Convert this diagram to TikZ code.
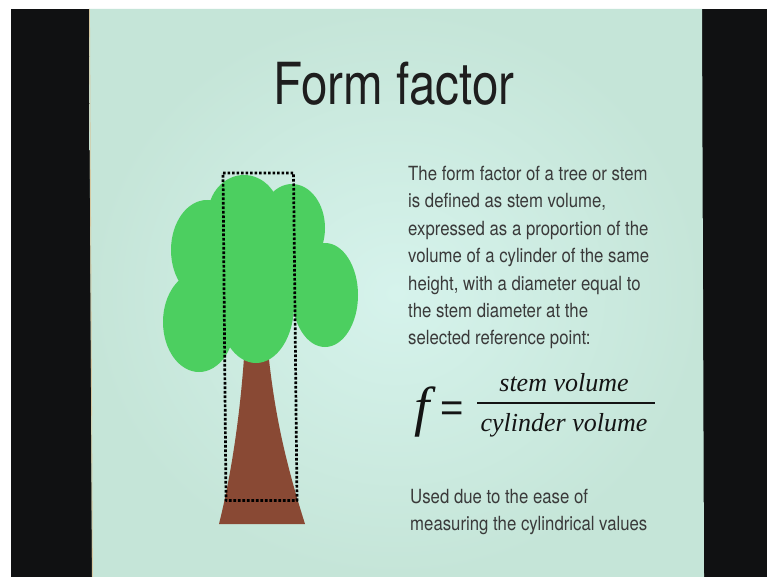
\documentclass[tikz,border=0pt]{standalone}
\usepackage{fontspec}
\setmainfont{TeX Gyre Heros}
\newfontfamily\titlefont[FakeStretch=0.82]{TeX Gyre Heros}
\newfontfamily\bodyfont[FakeStretch=0.86]{TeX Gyre Heros}
\newfontfamily\fracfont{Liberation Serif}
\newfontfamily\eqsignfont{Liberation Sans}

\definecolor{frameblack}{RGB}{16,17,18}
\definecolor{slideedge}{RGB}{197,229,216}
\definecolor{slidecentre}{RGB}{214,243,236}
\definecolor{leafgreen}{RGB}{76,207,96}
\definecolor{barkbrown}{RGB}{137,73,52}
\definecolor{titleink}{RGB}{30,30,30}
\definecolor{bodyink}{RGB}{58,58,58}
\definecolor{mathink}{RGB}{20,20,20}

\tikzset{
  titletext/.style={inner sep=0pt, anchor=base, text=titleink,
    font=\titlefont\fontsize{58}{58}\selectfont},
  bodytext/.style={inner sep=0pt, anchor=base west, text=bodyink,
    font=\bodyfont\fontsize{19.5}{27}\selectfont},
  fractext/.style={inner sep=0pt, anchor=base, text=mathink,
    font=\fracfont\itshape\fontsize{26}{26}\selectfont},
  leaf/.style={fill=leafgreen, draw=none},
  cylinderbox/.style={draw=black, line width=2.7pt,
    dash pattern=on 2.6pt off 1.9pt, line join=round}
}

\begin{document}
\begin{tikzpicture}[x=1pt, y=-1pt]
  \useasboundingbox (0,0) rectangle (767,577);

  % surroundings of the projected slide
  \fill[white] (0,0) rectangle (767,577);
  \fill[frameblack] (11,9) rectangle (767,577);

  % slide surface
  \shade[inner color=slidecentre, outer color=slideedge]
    (89,9) -- (702,9) -- (704,577) -- (92,577) -- cycle;
  \draw[color={rgb,255:red,214;green,200;blue,160}, line width=0.8pt]
    (89.5,9) -- (92.5,577);

  % title
  \node[titletext] (title) at (394,105) {Form factor};

  % trunk
  \fill[barkbrown] (244.5,350)
    .. controls (240,420) and (230,480) .. (219,524)
    -- (305,524)
    .. controls (288,470) and (275,420) .. (268,350) -- cycle;

  % crown built from overlapping ellipses
  \fill[leaf] (250,270) ellipse [x radius=50, y radius=70];
  \fill[leaf] (207,250) ellipse [x radius=36, y radius=50];
  \fill[leaf] (244,215) ellipse [x radius=36, y radius=40];
  \fill[leaf] (292,228) ellipse [x radius=33, y radius=44];
  \fill[leaf] (325,295) ellipse [x radius=33, y radius=52];
  \fill[leaf] (199,322) ellipse [x radius=36, y radius=50];
  \fill[leaf] (256,305) ellipse [x radius=38, y radius=58];

  % cylinder outline around the stem
  \coordinate (cyltl) at (223,173);
  \coordinate (cyltr) at (293.5,173);
  \coordinate (cylbr) at (297,500.5);
  \coordinate (cylbl) at (226,500.5);
  \draw[cylinderbox] (cyltl) -- (cyltr) -- (cylbr) -- (cylbl) -- cycle;

  % definition text
  \node[bodytext] (def1) at (408,180.5) {The form factor of a tree or stem};
  \node[bodytext] (def2) at (408,207.9) {is defined as stem volume,};
  \node[bodytext] (def3) at (408,235.3) {expressed as a proportion of the};
  \node[bodytext] (def4) at (408,262.7) {volume of a cylinder of the same};
  \node[bodytext] (def5) at (408,290.1) {height, with a diameter equal to};
  \node[bodytext] (def6) at (408,317.5) {the stem diameter at the};
  \node[bodytext] (def7) at (408,344.9) {selected reference point:};

  % formula
  \node[inner sep=0pt, anchor=base west, text=mathink,
    font=\fracfont\itshape\fontsize{55}{55}\selectfont] (fsym) at (414,425) {f};
  \node[inner sep=0pt, text=mathink,
    font=\eqsignfont\fontsize{40}{40}\selectfont] (eqsign) at (452,411.5) {=};
  \node[fractext] (numer) at (564,391.7) {stem volume};
  \node[fractext] (denom) at (564,431.7) {cylinder volume};
  \coordinate (barl) at (477,403);
  \coordinate (barr) at (655,403);
  \draw[mathink, line width=2pt] (barl) -- (barr);

  % closing remark
  \node[bodytext] (use1) at (410,503.3) {Used due to the ease of};
  \node[bodytext] (use2) at (410,530.7) {measuring the cylindrical values};
\end{tikzpicture}
\end{document}
